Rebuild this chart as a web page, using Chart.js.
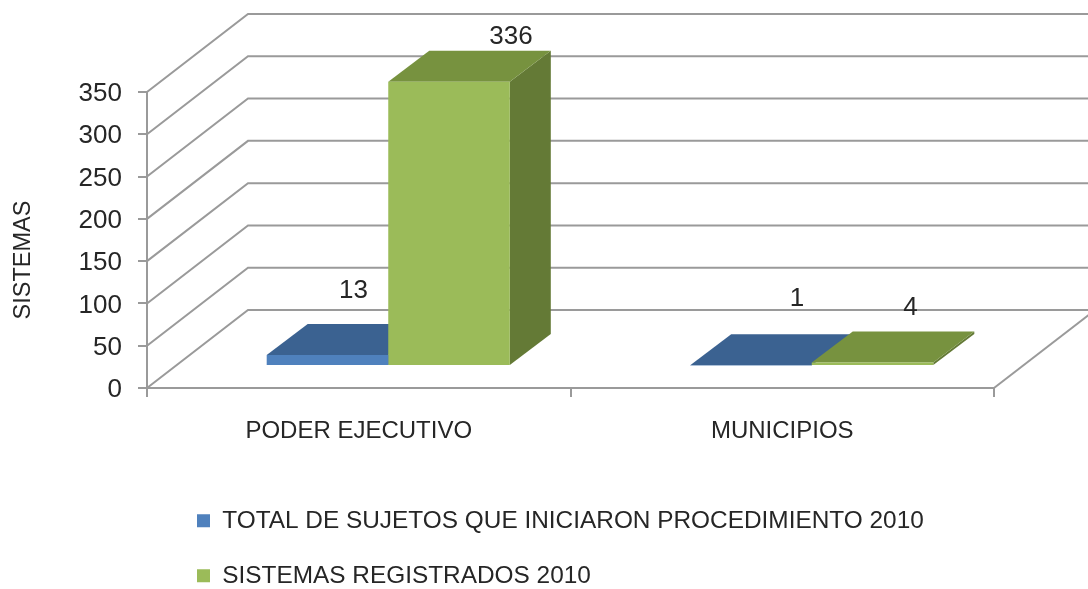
<!DOCTYPE html>
<html>
<head>
<meta charset="utf-8">
<style>html,body{margin:0;padding:0;background:#fff}canvas{display:block}</style>
<script src="https://cdn.jsdelivr.net/npm/chart.js@4"></script>
</head>
<body>
<canvas id="c" width="1088" height="589"></canvas>
<script>
const categories = ["PODER EJECUTIVO", "MUNICIPIOS"];
const seriesNames = ["TOTAL DE SUJETOS QUE INICIARON PROCEDIMIENTO 2010", "SISTEMAS REGISTRADOS 2010"];
const sujetos = [13, 1];
const sistemas = [336, 4];
const yTicks = [0, 50, 100, 150, 200, 250, 300, 350];
const yTitle = "SISTEMAS";

const FONT = '"Liberation Sans"';
const INK = '#262626', GRID = '#9a9a9a';
const WALL = {dx: 101, dy: 78};      // depth of the floor in pixels
const LIFT = {dx: 29.5, dy: 22};     // bars stand this far inside the floor
const BAR = {dx: 41, dy: 31};        // depth of a bar
const FACES = [
  {front: '#4f81bd', top: '#3b6291', side: '#2f4f78'},
  {front: '#9bbb59', top: '#77923f', side: '#647a36'}
];
const LABEL_SHIFT = [[[26, -64], [46, -66]], [[62, -45], [38, -55]]];

function poly(ctx, pts, fill) {
  ctx.beginPath();
  pts.forEach((p, i) => i ? ctx.lineTo(p[0], p[1]) : ctx.moveTo(p[0], p[1]));
  ctx.closePath();
  ctx.fillStyle = fill;
  ctx.fill();
}

const threeD = {
  id: 'threeD',
  afterLayout(chart) {
    const l = chart.legend;
    l.left = 166.4; l.right = 1088; l.top = 478; l.bottom = 589;
  },
  beforeDatasetsDraw(chart) {
    const ctx = chart.ctx, a = chart.chartArea, y = chart.scales.y;
    ctx.save();
    ctx.strokeStyle = GRID;
    ctx.lineWidth = 2;
    yTicks.forEach(v => {
      const py = y.getPixelForValue(v);
      ctx.beginPath();
      ctx.moveTo(a.left, py);
      ctx.lineTo(a.left + WALL.dx, py - WALL.dy);
      ctx.lineTo(a.right + WALL.dx, py - WALL.dy);
      ctx.stroke();
    });
    const py0 = y.getPixelForValue(0);
    ctx.beginPath();
    ctx.moveTo(a.right, py0);
    ctx.lineTo(a.right + WALL.dx, py0 - WALL.dy);
    ctx.stroke();
    ctx.restore();

    ctx.save();
    ctx.translate(LIFT.dx, -LIFT.dy);
    [0, 1].forEach(ds => {
      chart.getDatasetMeta(ds).data.forEach(b => {
        const l = b.x - b.width / 2, r = b.x + b.width / 2;
        const f = FACES[ds];
        poly(ctx, [[r, b.y], [r + BAR.dx, b.y - BAR.dy], [r + BAR.dx, b.base - BAR.dy], [r, b.base]], f.side);
        poly(ctx, [[l, b.y], [l + BAR.dx, b.y - BAR.dy], [r + BAR.dx, b.y - BAR.dy], [r, b.y]], f.top);
      });
    });
    // the front faces are drawn by Chart.js under this same shift
  },
  afterDatasetsDraw(chart) {
    const ctx = chart.ctx;
    ctx.restore();
    ctx.save();
    ctx.font = '26px ' + FONT;
    ctx.fillStyle = INK;
    ctx.textAlign = 'center';
    ctx.textBaseline = 'middle';
    [0, 1].forEach(ds => {
      chart.getDatasetMeta(ds).data.forEach((b, i) => {
        const s = LABEL_SHIFT[ds][i];
        ctx.fillText(String(chart.data.datasets[ds].data[i]), b.x + LIFT.dx + s[0], b.y - LIFT.dy + s[1]);
      });
    });
    ctx.translate(24, 260);
    ctx.rotate(-Math.PI / 2);
    ctx.font = '23.5px ' + FONT;
    ctx.fillText(yTitle, 0, 0);
    ctx.restore();
  }
};

new Chart(document.getElementById('c'), {
  type: 'bar',
  plugins: [threeD],
  data: {
    labels: categories,
    datasets: [
      {label: seriesNames[0], data: sujetos, backgroundColor: FACES[0].front, borderWidth: 0, clip: false, inflateAmount: 0},
      {label: seriesNames[1], data: sistemas, backgroundColor: FACES[1].front, borderWidth: 0, clip: false, inflateAmount: 0}
    ]
  },
  options: {
    responsive: false,
    animation: false,
    devicePixelRatio: 1,
    layout: {autoPadding: false, padding: {left: 0, right: 94, top: 92, bottom: 0}},
    categoryPercentage: 0.574,
    barPercentage: 1,
    plugins: {
      title: {display: false},
      tooltip: {enabled: false},
      legend: {
        position: 'bottom',
        align: 'start',
        labels: {
          boxWidth: 13,
          boxHeight: 13,
          padding: 30.6,
          color: INK,
          font: {family: FONT, size: 24.4}
        }
      }
    },
    scales: {
      x: {
        grid: {drawOnChartArea: false, drawTicks: true, tickLength: 9, color: GRID, lineWidth: 2},
        border: {color: GRID, width: 2},
        ticks: {color: INK, font: {family: FONT, size: 24}, padding: 20, maxRotation: 0},
        afterFit(s) { s.height = 201 - s.chart.legend.height; }
      },
      y: {
        min: 0,
        max: 350,
        grid: {drawOnChartArea: false, drawTicks: true, tickLength: 9, color: GRID, lineWidth: 2},
        border: {color: GRID, width: 2},
        ticks: {stepSize: 50, color: INK, font: {family: FONT, size: 26}, padding: 16, labelOffset: 2},
        afterFit(s) { s.width = 147; }
      }
    }
  }
});
</script>
</body>
</html>
